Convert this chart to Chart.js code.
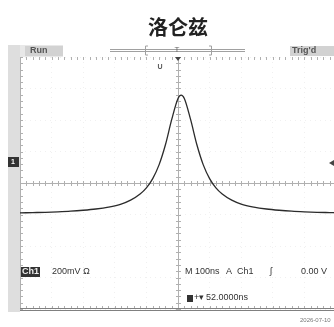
<!DOCTYPE html>
<html>
<head>
<meta charset="utf-8">
<script src="https://cdn.jsdelivr.net/npm/chart.js@4"></script>
<style>
  html, body { margin: 0; padding: 0; background: #fff; overflow: hidden; }
  #wrap { width: 340px; height: 327px; }
</style>
</head>
<body>
<div id="wrap"><canvas id="scope" width="340" height="327"></canvas></div>
<script>
// time in ns (100ns/div), signal in mV (200mV/div)
const times = [-500, -460, -420, -380, -340, -300, -260, -220, -180, -150, -120, -100, -80, -60, -40, -20, 0, 10,
  20, 40, 60, 80, 100, 120, 140, 170, 200, 240, 280, 320, 360, 400, 440, 480, 500];
const volts = [-190, -188, -186, -183, -179, -173, -165, -153, -134, -109, -70, -31, 28, 115, 241, 402, 537, 558,
  537, 402, 241, 115, 28, -31, -70, -109, -134, -153, -165, -173, -179, -183, -186, -188, -189];
const xTicks = [-500, 500, 100];   // min, max, step
const yTicks = [-800, 800, 200];

const points = times.map((t, i) => ({ x: t, y: volts[i] }));

// draws the oscilloscope frame, center graticule and readouts
const scopeFrame = {
  id: 'scopeFrame',
  beforeDraw(chart) {
    const ctx = chart.ctx;
    const a = chart.chartArea;
    ctx.save();
    // left gray strip and top bar
    ctx.fillStyle = '#dedede';
    ctx.fillRect(8, 45, a.left - 8, 267);
    ctx.fillStyle = '#e8e8e8';
    ctx.fillRect(a.left, 45, 43, a.top - 45);
    ctx.fillStyle = '#d2d2d2';
    ctx.fillRect(25, 46, 38, 10);
    ctx.fillRect(290, 46, 50, 10);
    ctx.restore();
  },
  beforeDatasetsDraw(chart) {
    const ctx = chart.ctx;
    const a = chart.chartArea;
    const xs = chart.scales.x, ys = chart.scales.y;
    const cx = xs.getPixelForValue(0), cy = ys.getPixelForValue(0);
    const dx = (xs.getPixelForValue(100) - cx) / 5;
    const dy = (ys.getPixelForValue(0) - ys.getPixelForValue(200)) / 5;
    ctx.save();
    ctx.strokeStyle = '#b0b0b0';
    ctx.lineWidth = 1;
    ctx.beginPath();
    ctx.moveTo(a.left, Math.round(cy) + 0.5); ctx.lineTo(a.right, Math.round(cy) + 0.5);
    ctx.moveTo(Math.round(cx) + 0.5, a.top); ctx.lineTo(Math.round(cx) + 0.5, a.bottom);
    ctx.moveTo(a.left + 0.5, a.top); ctx.lineTo(a.left + 0.5, a.bottom);
    for (let x = a.left; x <= a.right + 0.1; x += dx) {
      const px = Math.round(x) + 0.5;
      ctx.moveTo(px, cy - 2); ctx.lineTo(px, cy + 3);
      ctx.moveTo(px, a.top); ctx.lineTo(px, a.top + 3);
      ctx.moveTo(px, a.bottom - 3); ctx.lineTo(px, a.bottom);
    }
    for (let y = a.top; y <= a.bottom + 0.1; y += dy) {
      const py = Math.round(y) + 0.5;
      ctx.moveTo(cx - 2, py); ctx.lineTo(cx + 3, py);
      ctx.moveTo(a.left, py); ctx.lineTo(a.left + 3, py);
    }
    ctx.stroke();
    ctx.restore();
  },
  afterDraw(chart) {
    const ctx = chart.ctx;
    const a = chart.chartArea;
    const cx = chart.scales.x.getPixelForValue(0);
    ctx.save();
    // bottom double line
    ctx.strokeStyle = '#808080';
    ctx.beginPath();
    ctx.moveTo(a.left, 308.5); ctx.lineTo(340, 308.5);
    ctx.moveTo(a.left, 310.5); ctx.lineTo(340, 310.5);
    ctx.stroke();
    // record length bar at top
    ctx.strokeStyle = '#a0a0a0';
    ctx.beginPath();
    ctx.moveTo(110, 49.5); ctx.lineTo(245, 49.5);
    ctx.moveTo(110, 51.5); ctx.lineTo(245, 51.5);
    ctx.moveTo(145.5, 46); ctx.lineTo(145.5, 55);
    ctx.moveTo(145.5, 46); ctx.lineTo(148, 46);
    ctx.moveTo(145.5, 55); ctx.lineTo(148, 55);
    ctx.moveTo(211.5, 46); ctx.lineTo(211.5, 55);
    ctx.moveTo(211.5, 46); ctx.lineTo(209, 46);
    ctx.moveTo(211.5, 55); ctx.lineTo(209, 55);
    ctx.stroke();
    ctx.fillStyle = '#666';
    ctx.font = '8px "Liberation Sans"';
    ctx.textAlign = 'center';
    ctx.textBaseline = 'middle';
    ctx.fillText('T', cx - 1, 50);
    // trigger position marker
    ctx.fillStyle = '#444';
    ctx.beginPath();
    ctx.moveTo(cx - 3, a.top); ctx.lineTo(cx + 3, a.top); ctx.lineTo(cx, a.top + 4);
    ctx.fill();
    ctx.font = 'bold 7px "Liberation Sans"';
    ctx.fillStyle = '#555';
    ctx.fillText('U', 160, 67);
    // channel 1 ground marker
    ctx.fillStyle = '#333';
    ctx.fillRect(8, 157, 11, 10);
    ctx.fillStyle = '#fff';
    ctx.font = 'bold 7px "Liberation Sans"';
    ctx.fillText('1', 13, 162);
    // trigger level marker
    ctx.fillStyle = '#444';
    ctx.beginPath();
    ctx.moveTo(329, 163); ctx.lineTo(334, 160); ctx.lineTo(334, 166);
    ctx.fill();
    // status labels
    ctx.textAlign = 'left';
    ctx.fillStyle = '#555';
    ctx.font = 'bold 9px "Liberation Sans"';
    ctx.fillText('Run', 30, 51);
    ctx.fillText("Trig'd", 292, 51);
    // readouts
    ctx.fillStyle = '#333';
    ctx.fillRect(21, 267, 19, 10);
    ctx.fillStyle = '#eee';
    ctx.font = 'bold 9px "Liberation Sans"';
    ctx.fillText('Ch1', 22, 272);
    ctx.fillStyle = '#333';
    ctx.font = '9px "Liberation Sans"';
    ctx.fillText('200mV \u2126', 52, 272);
    ctx.fillText('M 100ns', 185, 272);
    ctx.fillText('A', 226, 272);
    ctx.fillText('Ch1', 237, 272);
    ctx.fillText('\u0283', 270, 272);
    ctx.fillText('0.00 V', 301, 272);
    ctx.fillRect(187, 295, 6, 7);
    ctx.fillText('+\u25BE', 194, 298);
    ctx.fillText('52.0000ns', 206, 298);
    ctx.fillStyle = '#777';
    ctx.font = '6px "Liberation Sans"';
    ctx.fillText('2026-07-10', 300, 320);
    ctx.restore();
  }
};

new Chart(document.getElementById('scope'), {
  type: 'line',
  data: {
    datasets: [{
      data: points,
      borderColor: '#2b2b2b',
      borderWidth: 1.3,
      pointRadius: 0,
      cubicInterpolationMode: 'monotone',
      fill: false
    }]
  },
  options: {
    responsive: false,
    animation: false,
    layout: { padding: { left: 20, right: 4, top: 0, bottom: 18 } },
    plugins: {
      legend: { display: false },
      tooltip: { enabled: false },
      title: {
        display: true,
        text: '洛仑兹',
        color: '#222',
        font: { size: 20, weight: 'bold', family: '"Noto Sans CJK SC"', lineHeight: 1.2 },
        padding: { top: 15, bottom: 18 }
      }
    },
    scales: {
      x: {
        type: 'linear',
        min: xTicks[0],
        max: xTicks[1],
        ticks: { display: false, stepSize: xTicks[2] },
        grid: { color: 'rgba(0,0,0,0.06)', drawTicks: false },
        border: { display: false, dash: [1, 4] }
      },
      y: {
        min: yTicks[0],
        max: yTicks[1],
        ticks: { display: false, stepSize: yTicks[2] },
        grid: { color: 'rgba(0,0,0,0.06)', drawTicks: false },
        border: { display: false, dash: [1, 4] }
      }
    }
  },
  plugins: [scopeFrame]
});
</script>
</body>
</html>
